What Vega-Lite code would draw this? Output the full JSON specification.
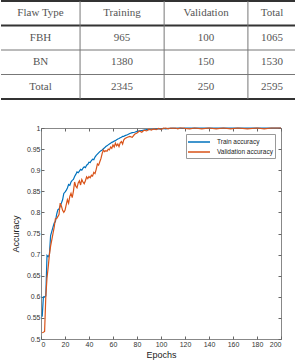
{
  "$schema": "https://vega.github.io/schema/vega-lite/v6.json",
  "padding": 0,
  "autosize": {"type": "pad"},
  "spacing": 23,
  "resolve": {"legend": {"color": "independent"}, "scale": {"color": "independent"}},
  "config": {
    "font": "Liberation Sans",
    "view": {"stroke": null},
    "axis": {"labelFontSize": 7, "labelColor": "#333", "titleFontSize": 9, "titleFontWeight": "normal", "titleColor": "#222", "domainColor": "#888", "tickColor": "#666", "grid": false}
  },
  "datasets": {
    "thick": [{"r": 0}, {"r": 1}, {"r": 4}],
    "thin": [{"r": 2}, {"r": 3}],
    "vlines": [{"b": 26.8}, {"b": 55.3}, {"b": 83.7}],
    "cells": [
      {"c": 13.4, "r": 0.5, "t": "Flaw  Type"}, {"c": 41.0, "r": 0.5, "t": "Training"}, {"c": 69.5, "r": 0.5, "t": "Validation"}, {"c": 91.85, "r": 0.5, "t": "Total"},
      {"c": 13.4, "r": 1.5, "t": "FBH"}, {"c": 41.0, "r": 1.5, "t": "965"}, {"c": 69.5, "r": 1.5, "t": "100"}, {"c": 91.85, "r": 1.5, "t": "1065"},
      {"c": 13.4, "r": 2.5, "t": "BN"}, {"c": 41.0, "r": 2.5, "t": "1380"}, {"c": 69.5, "r": 2.5, "t": "150"}, {"c": 91.85, "r": 2.5, "t": "1530"},
      {"c": 13.4, "r": 3.5, "t": "Total"}, {"c": 41.0, "r": 3.5, "t": "2345"}, {"c": 69.5, "r": 3.5, "t": "250"}, {"c": 91.85, "r": 3.5, "t": "2595"}
    ],
    "acc": [
      {"e":1,"Train accuracy":0.553,"Validation accuracy":0.515},
      {"e":2,"Train accuracy":0.600,"Validation accuracy":0.516},
      {"e":3,"Train accuracy":0.600,"Validation accuracy":0.518},
      {"e":4,"Train accuracy":0.602,"Validation accuracy":0.600},
      {"e":5,"Train accuracy":0.698,"Validation accuracy":0.645},
      {"e":6,"Train accuracy":0.695,"Validation accuracy":0.670},
      {"e":7,"Train accuracy":0.700,"Validation accuracy":0.700},
      {"e":8,"Train accuracy":0.745,"Validation accuracy":0.720},
      {"e":9,"Train accuracy":0.755,"Validation accuracy":0.735},
      {"e":10,"Train accuracy":0.765,"Validation accuracy":0.750},
      {"e":11,"Train accuracy":0.775,"Validation accuracy":0.765},
      {"e":12,"Train accuracy":0.778,"Validation accuracy":0.785},
      {"e":13,"Train accuracy":0.795,"Validation accuracy":0.785},
      {"e":14,"Train accuracy":0.806,"Validation accuracy":0.790},
      {"e":15,"Train accuracy":0.808,"Validation accuracy":0.795},
      {"e":16,"Train accuracy":0.815,"Validation accuracy":0.822},
      {"e":17,"Train accuracy":0.822,"Validation accuracy":0.815},
      {"e":18,"Train accuracy":0.830,"Validation accuracy":0.805},
      {"e":19,"Train accuracy":0.845,"Validation accuracy":0.800},
      {"e":20,"Train accuracy":0.848,"Validation accuracy":0.805},
      {"e":21,"Train accuracy":0.852,"Validation accuracy":0.818},
      {"e":22,"Train accuracy":0.858,"Validation accuracy":0.830},
      {"e":23,"Train accuracy":0.866,"Validation accuracy":0.822},
      {"e":24,"Train accuracy":0.864,"Validation accuracy":0.838},
      {"e":25,"Train accuracy":0.872,"Validation accuracy":0.845},
      {"e":26,"Train accuracy":0.876,"Validation accuracy":0.835},
      {"e":27,"Train accuracy":0.878,"Validation accuracy":0.850},
      {"e":28,"Train accuracy":0.885,"Validation accuracy":0.872},
      {"e":29,"Train accuracy":0.890,"Validation accuracy":0.862},
      {"e":30,"Train accuracy":0.896,"Validation accuracy":0.858},
      {"e":31,"Train accuracy":0.894,"Validation accuracy":0.870},
      {"e":32,"Train accuracy":0.898,"Validation accuracy":0.875},
      {"e":33,"Train accuracy":0.902,"Validation accuracy":0.865},
      {"e":34,"Train accuracy":0.900,"Validation accuracy":0.878},
      {"e":35,"Train accuracy":0.905,"Validation accuracy":0.872},
      {"e":36,"Train accuracy":0.908,"Validation accuracy":0.868},
      {"e":37,"Train accuracy":0.906,"Validation accuracy":0.875},
      {"e":38,"Train accuracy":0.912,"Validation accuracy":0.884},
      {"e":39,"Train accuracy":0.914,"Validation accuracy":0.880},
      {"e":40,"Train accuracy":0.919,"Validation accuracy":0.885},
      {"e":41,"Train accuracy":0.918,"Validation accuracy":0.882},
      {"e":42,"Train accuracy":0.923,"Validation accuracy":0.888},
      {"e":43,"Train accuracy":0.926,"Validation accuracy":0.886},
      {"e":44,"Train accuracy":0.925,"Validation accuracy":0.895},
      {"e":45,"Train accuracy":0.931,"Validation accuracy":0.892},
      {"e":46,"Train accuracy":0.935,"Validation accuracy":0.902},
      {"e":47,"Train accuracy":0.938,"Validation accuracy":0.915},
      {"e":48,"Train accuracy":0.941,"Validation accuracy":0.912},
      {"e":49,"Train accuracy":0.944,"Validation accuracy":0.920},
      {"e":50,"Train accuracy":0.946,"Validation accuracy":0.928},
      {"e":51,"Train accuracy":0.948,"Validation accuracy":0.940},
      {"e":52,"Train accuracy":0.951,"Validation accuracy":0.948},
      {"e":53,"Train accuracy":0.953,"Validation accuracy":0.944},
      {"e":54,"Train accuracy":0.956,"Validation accuracy":0.946},
      {"e":55,"Train accuracy":0.958,"Validation accuracy":0.945},
      {"e":56,"Train accuracy":0.960,"Validation accuracy":0.950},
      {"e":57,"Train accuracy":0.962,"Validation accuracy":0.948},
      {"e":58,"Train accuracy":0.964,"Validation accuracy":0.955},
      {"e":59,"Train accuracy":0.966,"Validation accuracy":0.952},
      {"e":60,"Train accuracy":0.967,"Validation accuracy":0.960},
      {"e":61,"Train accuracy":0.969,"Validation accuracy":0.955},
      {"e":62,"Train accuracy":0.970,"Validation accuracy":0.964},
      {"e":63,"Train accuracy":0.972,"Validation accuracy":0.958},
      {"e":64,"Train accuracy":0.974,"Validation accuracy":0.962},
      {"e":65,"Train accuracy":0.975,"Validation accuracy":0.956},
      {"e":66,"Train accuracy":0.977,"Validation accuracy":0.965},
      {"e":67,"Train accuracy":0.978,"Validation accuracy":0.968},
      {"e":68,"Train accuracy":0.980,"Validation accuracy":0.962},
      {"e":69,"Train accuracy":0.980,"Validation accuracy":0.972},
      {"e":70,"Train accuracy":0.982,"Validation accuracy":0.975},
      {"e":72,"Train accuracy":0.984,"Validation accuracy":0.978},
      {"e":74,"Train accuracy":0.987,"Validation accuracy":0.980},
      {"e":76,"Train accuracy":0.989,"Validation accuracy":0.978},
      {"e":78,"Train accuracy":0.990,"Validation accuracy":0.985},
      {"e":80,"Train accuracy":0.992,"Validation accuracy":0.988},
      {"e":82,"Train accuracy":0.993,"Validation accuracy":0.993},
      {"e":84,"Train accuracy":0.994,"Validation accuracy":0.990},
      {"e":86,"Train accuracy":0.995,"Validation accuracy":0.995},
      {"e":88,"Train accuracy":0.996,"Validation accuracy":0.993},
      {"e":90,"Train accuracy":0.996,"Validation accuracy":0.997},
      {"e":92,"Train accuracy":0.997,"Validation accuracy":0.995},
      {"e":94,"Train accuracy":0.997,"Validation accuracy":0.998},
      {"e":96,"Train accuracy":0.998,"Validation accuracy":0.996},
      {"e":98,"Train accuracy":0.998,"Validation accuracy":0.999},
      {"e":100,"Train accuracy":0.998,"Validation accuracy":0.997},
      {"e":102,"Train accuracy":0.999,"Validation accuracy":0.999},
      {"e":104,"Train accuracy":0.998,"Validation accuracy":1},
      {"e":106,"Train accuracy":0.999,"Validation accuracy":0.998},
      {"e":108,"Train accuracy":0.999,"Validation accuracy":1},
      {"e":110,"Train accuracy":1,"Validation accuracy":0.999},
      {"e":112,"Train accuracy":0.999,"Validation accuracy":1},
      {"e":114,"Train accuracy":1,"Validation accuracy":0.998},
      {"e":116,"Train accuracy":1,"Validation accuracy":1},
      {"e":118,"Train accuracy":0.999,"Validation accuracy":1},
      {"e":120,"Train accuracy":1,"Validation accuracy":0.999},
      {"e":124,"Train accuracy":1,"Validation accuracy":0.998},
      {"e":128,"Train accuracy":1,"Validation accuracy":1},
      {"e":134,"Train accuracy":1,"Validation accuracy":0.998},
      {"e":140,"Train accuracy":1,"Validation accuracy":1},
      {"e":146,"Train accuracy":1,"Validation accuracy":0.998},
      {"e":152,"Train accuracy":1,"Validation accuracy":1},
      {"e":158,"Train accuracy":1,"Validation accuracy":0.998},
      {"e":164,"Train accuracy":1,"Validation accuracy":1},
      {"e":172,"Train accuracy":1,"Validation accuracy":0.998},
      {"e":180,"Train accuracy":1,"Validation accuracy":1},
      {"e":186,"Train accuracy":1,"Validation accuracy":0.998},
      {"e":192,"Train accuracy":1,"Validation accuracy":1},
      {"e":200,"Train accuracy":1,"Validation accuracy":1}
    ]
  },
  "vconcat": [
    {
      "width": 240,
      "height": 98,
      "layer": [
        {
          "data": {"name": "thick"},
          "mark": {"type": "rule", "strokeWidth": 2, "color": "#333"},
          "encoding": {
            "y": {"field": "r", "type": "quantitative", "scale": {"domain": [0, 4], "reverse": true, "nice": false, "zero": false}, "axis": null},
            "x": {"datum": 0, "type": "quantitative", "scale": {"domain": [0, 100], "range": [-40, 255], "nice": false, "zero": false}, "axis": null},
            "x2": {"datum": 100}
          }
        },
        {
          "data": {"name": "thin"},
          "mark": {"type": "rule", "strokeWidth": 1, "color": "#777"},
          "encoding": {
            "y": {"field": "r", "type": "quantitative"},
            "x": {"datum": 0, "type": "quantitative"},
            "x2": {"datum": 100}
          }
        },
        {
          "data": {"name": "vlines"},
          "mark": {"type": "rule", "strokeWidth": 1, "color": "#777"},
          "encoding": {
            "x": {"field": "b", "type": "quantitative"},
            "y": {"datum": 0, "type": "quantitative"},
            "y2": {"datum": 4}
          }
        },
        {
          "data": {"name": "cells"},
          "mark": {"type": "text", "font": "Liberation Serif", "fontSize": 11, "color": "#555", "align": "center", "baseline": "middle"},
          "encoding": {
            "x": {"field": "c", "type": "quantitative"},
            "y": {"field": "r", "type": "quantitative"},
            "text": {"field": "t"}
          }
        }
      ]
    },
    {
      "width": 240,
      "height": 211,
      "view": {"stroke": "#888"},
      "data": {"name": "acc"},
      "transform": [{"fold": ["Train accuracy", "Validation accuracy"], "as": ["series", "acc"]}],
      "layer": [
        {
          "mark": {"type": "line", "strokeWidth": 1.2},
          "encoding": {
            "x": {"field": "e", "type": "quantitative", "scale": {"domain": [0, 200], "nice": false, "zero": false},
                  "axis": {"orient": "bottom", "values": [0, 20, 40, 60, 80, 100, 120, 140, 160, 180, 200], "title": "Epochs", "tickSize": -3, "labelPadding": 4, "titlePadding": 3, "domain": false}},
            "y": {"field": "acc", "type": "quantitative", "scale": {"domain": [0.5, 1], "nice": false, "zero": false},
                  "axis": {"orient": "left", "values": [0.5, 0.55, 0.6, 0.65, 0.7, 0.75, 0.8, 0.85, 0.9, 0.95, 1], "format": ".2~f", "title": "Accuracy", "tickSize": -3, "labelPadding": 4, "titlePadding": 6, "domain": false}},
            "color": {"field": "series", "type": "nominal",
                      "scale": {"domain": ["Train accuracy", "Validation accuracy"], "range": ["#0072BD", "#D95319"]},
                      "legend": {"orient": "top-right", "offset": 6, "title": null, "strokeColor": "#999", "fillColor": "white", "padding": 2,
                                 "symbolType": "M-2.2,0H2.2", "symbolSize": 100, "symbolStrokeWidth": 1.5, "symbolOffset": 5,
                                 "labelFontSize": 6.5, "labelOffset": 12, "labelColor": "#222", "rowPadding": 0, "labelLimit": 200}}
          }
        },
        {
          "mark": {"type": "line", "opacity": 0},
          "encoding": {
            "x": {"field": "e", "type": "quantitative", "axis": {"orient": "top", "values": [0, 20, 40, 60, 80, 100, 120, 140, 160, 180, 200], "labels": false, "title": null, "tickSize": -3, "domain": false}},
            "y": {"field": "acc", "type": "quantitative", "axis": {"orient": "right", "values": [0.5, 0.55, 0.6, 0.65, 0.7, 0.75, 0.8, 0.85, 0.9, 0.95, 1], "labels": false, "title": null, "tickSize": -3, "domain": false}},
            "detail": {"field": "series"}
          }
        }
      ],
      "resolve": {"axis": {"x": "independent", "y": "independent"}}
    }
  ]
}
